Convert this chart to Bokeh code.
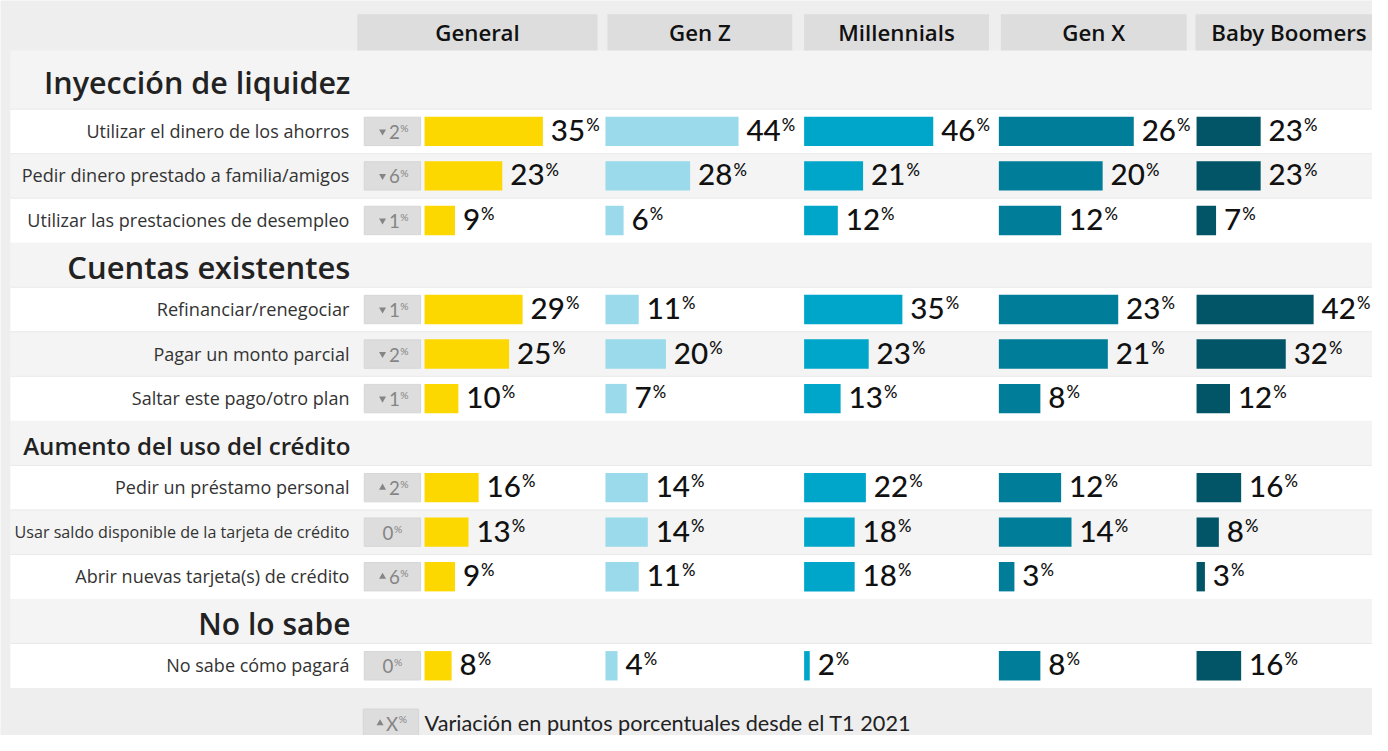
from bokeh.plotting import figure
from bokeh.models import Range1d, ColumnDataSource
from bokeh.core.properties import value
from bokeh.embed import file_html
from bokeh.resources import INLINE

# ---------------- data ----------------
groups = ["General", "Gen Z", "Millennials", "Gen X", "Baby Boomers"]
sections = ["Inyección de liquidez", "Cuentas existentes",
            "Aumento del uso del crédito", "No lo sabe"]
row_labels = ["Utilizar el dinero de los ahorros",
              "Pedir dinero prestado a familia/amigos",
              "Utilizar las prestaciones de desempleo",
              "Refinanciar/renegociar",
              "Pagar un monto parcial",
              "Saltar este pago/otro plan",
              "Pedir un préstamo personal",
              "Usar saldo disponible de la tarjeta de crédito",
              "Abrir nuevas tarjeta(s) de crédito",
              "No sabe cómo pagará"]
row_section = [0, 0, 0, 1, 1, 1, 2, 2, 2, 3]
general = [35, 23, 9, 29, 25, 10, 16, 13, 9, 8]
gen_z = [44, 28, 6, 11, 20, 7, 14, 14, 11, 4]
millennials = [46, 21, 12, 35, 23, 13, 22, 18, 18, 2]
gen_x = [26, 20, 12, 23, 21, 8, 12, 14, 3, 8]
baby_boomers = [23, 23, 7, 42, 32, 12, 16, 8, 3, 16]
change_general = [-2, -6, -1, -1, -2, -1, 2, 0, 6, 0]
legend_text = "Variación en puntos porcentuales desde el T1 2021"
legend_symbol = "X"

series = [general, gen_z, millennials, gen_x, baby_boomers]

# ---------------- layout / style ----------------
colors = ["#FCD700", "#9ADAEA", "#00A6C9", "#007E99", "#015566"]
bar_x0 = [429, 612, 813, 1010, 1210]
px_per_pct = [3.42, 3.06, 2.84, 5.25, 2.82]
head_x0 = [361, 614, 813, 1012, 1209]
head_x1 = [604, 801, 1000, 1200, 1398]
sec_font = [31, 31.5, 24.5, 30.5]
label_font = [18.3, 18.4, 18.3, 18.5, 18.3, 18.3, 18.3, 16.3, 18.3, 18.3]

W, H = 1372, 735
S = 0.985  # page is drawn slightly smaller than the 1388x751 reference

def fs(v):
    return f"{v * S:.1f}px"

FONT = "Open Sans"
FONT_MED = "Open Sans SemiBold, Open Sans"
NUM_FONT = "Lato Medium, Lato"
BADGE_FONT = "Lato"
PANEL_TOP = 51
FIRST_BAND = 60
ROW_H = 45.5
BAR_H = 30
NUM_SIZE = 30
DIGIT_W = 0.58 * NUM_SIZE
BADGE_SIZE = 19
BADGE_DIGIT_W = 0.58 * BADGE_SIZE

# vertical positions
y = PANEL_TOP
sec_bands = []
row_bands = []
row_pos = []
for s in range(len(sections)):
    h = FIRST_BAND if s == 0 else ROW_H
    sec_bands.append((y, y + h))
    y += h
    k = 0
    for i, sec in enumerate(row_section):
        if sec == s:
            row_bands.append((y, y + ROW_H))
            row_pos.append(k)
            k += 1
            y += ROW_H
PANEL_BOTTOM = y
row_c = [(a + b) / 2 for a, b in row_bands]
sec_c = [(a + b) / 2 for a, b in sec_bands]

p = figure(width=W, height=H, x_range=Range1d(0, 1388), y_range=Range1d(751, 0),
           output_backend="svg", toolbar_location=None, min_border=0)
p.axis.visible = False
p.xgrid.visible = False
p.ygrid.visible = False
p.outline_line_color = None
p.background_fill_color = "#EEEEEE"
p.border_fill_color = "#EEEEEE"

# panel
p.quad(left=[10], right=[1400], top=[PANEL_TOP], bottom=[PANEL_BOTTOM],
       fill_color="#F4F4F4", line_color=None)

# header boxes (text y = visual centre of capitals)
p.quad(left=head_x0, right=head_x1, top=[14] * 5, bottom=[PANEL_TOP] * 5,
       fill_color="#DDDDDD", line_color=None)
p.text(x=[(a + b) / 2 for a, b in zip(head_x0, head_x1)], y=[33] * 5, text=groups,
       text_font=value(FONT_MED), text_font_size=fs(22.6), text_color="#111111",
       text_align="center", text_baseline="alphabetic")

# white rows
white = [i for i in range(len(row_labels)) if row_pos[i] % 2 == 0]
p.quad(left=[10] * len(white), right=[1400] * len(white),
       top=[row_bands[i][0] for i in white], bottom=[row_bands[i][1] for i in white],
       fill_color="#FFFFFF", line_color=None)
# separators
p.segment(x0=[10] * len(row_bands), x1=[1400] * len(row_bands),
          y0=[a for a, b in row_bands], y1=[a for a, b in row_bands],
          line_color="#E9E9E9", line_width=1)

# section titles
p.text(x=[354] * len(sections), y=[c + 2.5 for c in sec_c],
       text=sections, text_font=value(FONT_MED),
       text_font_size=[fs(f) for f in sec_font], text_color="#222222",
       text_align="right", text_baseline="alphabetic")

# row labels
p.text(x=[353] * len(row_labels), y=[c - 0.5 for c in row_c], text=row_labels,
       text_font=value(FONT), text_font_size=[fs(f) for f in label_font],
       text_color="#333333", text_align="right", text_baseline="alphabetic")

# change badges
p.rect(x=[396.5] * len(row_c), y=row_c, width=57, height=29,
       fill_color="#DDDDDD", line_color="#D6D6D6", line_width=1)
nz = [i for i, d in enumerate(change_general) if d != 0]
p.scatter(x=[386.5] * len(nz), y=[row_c[i] for i in nz],
          marker=["triangle" if change_general[i] > 0 else "inverted_triangle" for i in nz],
          size=7, fill_color="#858585", line_color=None)
bx = [393 if d != 0 else 386.5 for d in change_general]
p.text(x=bx, y=[c + 0.5 for c in row_c], text=[str(abs(d)) for d in change_general],
       text_font=value(BADGE_FONT), text_font_size=fs(BADGE_SIZE), text_color="#858585",
       text_align="left", text_baseline="alphabetic")
p.text(x=[b + BADGE_DIGIT_W + 0.5 for b in bx], y=[c - 3.5 for c in row_c],
       text=["%"] * len(row_c), text_font=value(BADGE_FONT), text_font_size=fs(10.5),
       text_color="#858585", text_align="left", text_baseline="alphabetic")

# bars + values
for ci, vals in enumerate(series):
    right = [bar_x0[ci] + v * px_per_pct[ci] for v in vals]
    src = ColumnDataSource(dict(y=row_c, left=[bar_x0[ci]] * len(vals), right=right,
                                num=[str(v) for v in vals],
                                nx=[r + 8 for r in right],
                                ny=[c - 1 for c in row_c],
                                px=[r + 8 + len(str(v)) * DIGIT_W + 1 for r, v in zip(right, vals)],
                                py=[c - 6.5 for c in row_c]))
    p.hbar(y="y", left="left", right="right", height=BAR_H, source=src,
           fill_color=colors[ci], line_color=None)
    p.text(x="nx", y="ny", text="num", source=src, text_font=value(NUM_FONT),
           text_font_size=fs(NUM_SIZE), text_color="#111111",
           text_align="left", text_baseline="alphabetic")
    p.text(x="px", y="py", text=value("%"), source=src, text_font=value(NUM_FONT),
           text_font_size=fs(17), text_color="#111111",
           text_align="left", text_baseline="alphabetic")

# legend
p.rect(x=[395], y=[738.5], width=56, height=29, fill_color="#DDDDDD",
       line_color="#D6D6D6", line_width=1)
p.scatter(x=[384], y=[738.5], marker="triangle", size=7, fill_color="#858585", line_color=None)
p.text(x=[390], y=[739], text=[legend_symbol], text_font=value(BADGE_FONT),
       text_font_size=fs(BADGE_SIZE), text_color="#858585", text_align="left",
       text_baseline="alphabetic")
p.text(x=[403], y=[734.5], text=["%"], text_font=value(BADGE_FONT), text_font_size=fs(10.5),
       text_color="#858585", text_align="left", text_baseline="alphabetic")
p.text(x=[429], y=[738], text=[legend_text], text_font=value("Lato"),
       text_font_size=fs(22), text_color="#222222", text_align="left",
       text_baseline="alphabetic")

open("out.html", "w").write(file_html(p, INLINE))
